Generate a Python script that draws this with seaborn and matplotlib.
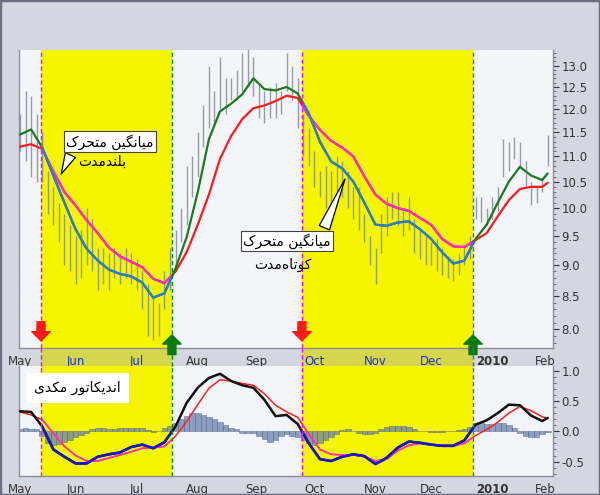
import numpy as np
import pandas as pd
import matplotlib
matplotlib.use("Agg")
import matplotlib.pyplot as plt
import matplotlib.transforms as mtransforms
from matplotlib.patches import Rectangle
from matplotlib.lines import Line2D
from matplotlib.ticker import FixedLocator, FormatStrFormatter, NullFormatter
import seaborn as sns

# ---------------- data ----------------
# x axis = trading-day index (0 = 1 May 2009)
month_ticks = [0, 20, 42, 64, 85, 106, 128, 148, 170, 189]
month_labels = ["May", "Jun", "Jul", "Aug", "Sep", "Oct", "Nov", "Dec", "2010", "Feb"]

# bearish / bullish shaded periods (trading-day index)
shade_periods = [(7.56, 54.7), (101.5, 163.1)]

bar_days = list(range(0, 191, 2))
bar_high = [11.9, 12.4, 12.3, 11.9, 11.5, 10.7, 10.4, 10.1, 9.9, 9.7,
            9.5, 9.6, 10.0, 9.8, 9.3, 9.3, 9.2, 9.3, 9.2, 9.3,
            9.2, 9.1, 8.9, 8.7, 8.5, 8.4, 8.9, 9.3, 9.6, 10.0,
            10.8, 11.0, 11.5, 12.1, 13.0, 12.4, 13.2, 12.7, 12.7, 12.9,
            13.3, 13.4, 13.2, 12.6, 12.4, 12.5, 12.6, 12.4, 13.3, 13.0,
            12.7, 11.9, 11.6, 11.1, 10.7, 10.8, 10.7, 11.0, 10.9, 10.7,
            10.4, 10.4, 9.9, 9.5, 9.3, 9.9, 10.2, 10.3, 10.3, 10.0,
            10.2, 9.8, 9.6, 9.5, 9.4, 9.45, 9.3, 9.15, 9.1, 9.2,
            9.35, 9.5, 10.2, 10.2, 10.0, 10.2, 10.4, 11.35, 11.3, 11.4,
            11.3, 10.9, 10.5, 10.4, 10.6, 11.45]
bar_low = [11.1, 10.9, 10.6, 10.5, 10.5, 9.9, 9.7, 9.4, 9.0, 8.9,
           8.7, 8.8, 9.0, 8.9, 8.6, 8.7, 8.6, 8.8, 8.7, 8.8,
           8.7, 8.6, 8.3, 7.9, 7.85, 7.9, 8.3, 8.6, 8.95, 9.4,
           9.7, 10.2, 10.6, 11.2, 11.6, 11.7, 12.0, 11.9, 12.2, 12.2,
           12.4, 12.5, 12.3, 11.8, 11.7, 11.8, 11.8, 11.9, 12.4, 12.2,
           11.6, 11.0, 10.8, 10.4, 10.2, 10.0, 10.0, 10.3, 10.2, 10.0,
           9.8, 9.6, 9.4, 9.0, 8.7, 9.2, 9.5, 9.8, 9.7, 9.5,
           9.6, 9.2, 9.1, 9.0, 9.0, 8.9, 8.85, 8.8, 8.75, 8.85,
           9.0, 9.1, 9.8, 9.75, 9.7, 9.8, 9.95, 10.6, 10.7, 10.95,
           10.8, 10.4, 10.05, 10.1, 10.3, 10.8]

line_days = list(range(0, 189, 4)) + [190]
ma_short = [11.45, 11.56, 11.18, 10.62, 10.1, 9.62, 9.28, 9.08, 8.93, 8.86,
            8.82, 8.72, 8.48, 8.55, 8.95, 9.48, 10.3, 11.35, 11.95, 12.12,
            12.33, 12.7, 12.45, 12.42, 12.5, 12.35, 11.9, 11.3, 10.9, 10.76,
            10.5, 10.1, 9.7, 9.68, 9.74, 9.76, 9.62, 9.45, 9.22, 9.03,
            9.08, 9.45, 9.7, 10.1, 10.5, 10.79, 10.62, 10.53, 10.66]
ma_long = [11.2, 11.25, 11.15, 10.7, 10.3, 10.05, 9.78, 9.55, 9.3, 9.15,
           9.06, 8.97, 8.78, 8.71, 8.9, 9.22, 9.7, 10.25, 10.95, 11.42,
           11.78, 12.02, 12.08, 12.18, 12.3, 12.25, 11.85, 11.55, 11.32, 11.18,
           11.0, 10.6, 10.25, 10.08, 10.0, 9.95, 9.82, 9.7, 9.45, 9.32,
           9.31, 9.43, 9.55, 9.85, 10.15, 10.36, 10.4, 10.4, 10.48]
macd_line = [0.33, 0.32, 0.08, -0.30, -0.42, -0.53, -0.53, -0.42, -0.38, -0.35,
             -0.26, -0.22, -0.28, -0.18, 0.08, 0.47, 0.72, 0.88, 0.95, 0.83,
             0.76, 0.72, 0.52, 0.25, 0.27, 0.12, -0.20, -0.46, -0.49, -0.42,
             -0.38, -0.41, -0.54, -0.44, -0.27, -0.17, -0.19, -0.22, -0.24, -0.24,
             -0.15, 0.11, 0.18, 0.30, 0.44, 0.43, 0.26, 0.17, 0.22]
signal_line = [0.32, 0.27, 0.19, -0.03, -0.25, -0.40, -0.49, -0.49, -0.44, -0.39,
               -0.34, -0.28, -0.27, -0.25, -0.08, 0.16, 0.44, 0.71, 0.85, 0.83,
               0.79, 0.76, 0.62, 0.43, 0.32, 0.23, -0.05, -0.30, -0.38, -0.39,
               -0.39, -0.42, -0.49, -0.46, -0.32, -0.23, -0.20, -0.22, -0.23, -0.24,
               -0.20, -0.07, 0.03, 0.15, 0.30, 0.41, 0.34, 0.24, 0.21]
macd_hist = [0.04, 0.05, 0.04, 0.03, -0.08, -0.2, -0.23, -0.21, -0.17, -0.14,
             -0.1, -0.06, -0.03, 0.03, 0.06, 0.05, 0.04, 0.04, 0.05, 0.06,
             0.06, 0.05, 0.05, 0.02, -0.01, 0.0, 0.05, 0.09, 0.13, 0.2,
             0.26, 0.3, 0.3, 0.27, 0.24, 0.2, 0.16, 0.11, 0.06, 0.03,
             -0.02, -0.03, -0.02, -0.07, -0.13, -0.17, -0.15, -0.08, -0.05, -0.07,
             -0.1, -0.15, -0.2, -0.22, -0.2, -0.15, -0.1, -0.04, 0.02, 0.04,
             0.0, -0.02, -0.04, -0.05, -0.03, 0.03, 0.07, 0.08, 0.09, 0.09,
             0.07, 0.04, 0.01, 0.0, -0.01, -0.01, -0.01, 0.0, 0.0, 0.02,
             0.04, 0.07, 0.13, 0.13, 0.12, 0.12, 0.13, 0.13, 0.1, 0.05,
             -0.02, -0.08, -0.1, -0.09, -0.05, -0.01]

price_ticks = [8.0, 8.5, 9.0, 9.5, 10.0, 10.5, 11.0, 11.5, 12.0, 12.5, 13.0]
macd_ticks = [-0.5, 0.0, 0.5, 1.0]

txt_long = "میانگین متحرک"
txt_long2 = "بلندمدت"
txt_short2 = "کوتاه\u200cمدت"
txt_macd = "اندیکاتور مکدی"

# ---------------- Persian shaping (matplotlib has no RTL shaping) ----------------
FORMS = {
    "ا": ("\uFE8D", "\uFE8E", None, None),
    "ب": ("\uFE8F", "\uFE90", "\uFE91", "\uFE92"),
    "ت": ("\uFE95", "\uFE96", "\uFE97", "\uFE98"),
    "ح": ("\uFEA1", "\uFEA2", "\uFEA3", "\uFEA4"),
    "د": ("\uFEA9", "\uFEAA", None, None),
    "ر": ("\uFEAD", "\uFEAE", None, None),
    "ل": ("\uFEDD", "\uFEDE", "\uFEDF", "\uFEE0"),
    "م": ("\uFEE1", "\uFEE2", "\uFEE3", "\uFEE4"),
    "ن": ("\uFEE5", "\uFEE6", "\uFEE7", "\uFEE8"),
    "و": ("\uFEED", "\uFEEE", None, None),
    "ه": ("\uFEE9", "\uFEEA", "\uFEEB", "\uFEEC"),
    "ی": ("\uFBFC", "\uFBFD", "\uFBFE", "\uFBFF"),
    "ک": ("\uFB8E", "\uFB8F", "\uFB90", "\uFB91"),
    "گ": ("\uFB92", "\uFB93", "\uFB94", "\uFB95"),
}


def shape(s):
    out = []
    n = len(s)
    for j, c in enumerate(s):
        if c not in FORMS:
            if c != "\u200c":
                out.append(c)
            continue
        prev = s[j - 1] if j > 0 else None
        nxt = s[j + 1] if j < n - 1 else None
        jp = prev in FORMS and FORMS[prev][2] is not None
        jn = nxt in FORMS and FORMS[c][2] is not None
        iso, fin, ini, med = FORMS[c]
        if jp and jn:
            out.append(med)
        elif jp:
            out.append(fin)
        elif jn:
            out.append(ini)
        else:
            out.append(iso)
    return "".join(out[::-1])


# ---------------- figure ----------------
sns.set_style("white")
plt.rcParams["font.family"] = ["DejaVu Sans"]

W, H = 600, 495
fig = plt.figure(figsize=(W / 100, H / 100), dpi=100, facecolor="#d3d7e1")


def fx(px):
    return px / W


def fy(py):
    return 1 - py / H


ax1 = fig.add_axes([fx(19), fy(348), fx(553) - fx(19), fy(50) - fy(348)])
ax2 = fig.add_axes([fx(19), fy(475.7), fx(553) - fx(19), fy(366) - fy(475.7)])

YELLOW = "#f5f500"
xlim = (-0.36, 191.9)

for ax in (ax1, ax2):
    ax.set_facecolor("#f4f5fa")
    ax.set_xlim(*xlim)
    for s0, s1 in shade_periods:
        ax.axvspan(s0, s1, color=YELLOW, lw=0, zorder=0.5)
    for sp in ax.spines.values():
        sp.set_color("#8c8f96")
        sp.set_linewidth(1.0)
    ax.spines["top"].set_visible(False)

# ---------------- main price panel ----------------
ax1.set_yscale("log")
ax1.set_ylim(7.73, 13.38)
ax1.vlines(bar_days, bar_low, bar_high, color="#7c8791", lw=1.0, alpha=0.8, zorder=2)

df_ma = pd.DataFrame({"day": line_days, "short": ma_short, "long": ma_long,
                      "macd": macd_line, "signal": signal_line})


def seg_line(ax, col, base_color, alt_color, lw):
    sns.lineplot(data=df_ma, x="day", y=col, ax=ax, color=base_color, lw=lw,
                 sort=False, estimator=None, zorder=3)
    for s0, s1 in shade_periods:
        sns.lineplot(data=df_ma, x="day", y=col, ax=ax, color=alt_color, lw=lw,
                     sort=False, estimator=None, zorder=4)
        ln = ax.lines[-1]
        clip = Rectangle((s0, 0), s1 - s0, 1, transform=ax.get_xaxis_transform())
        ln.set_clip_path(clip)


seg_line(ax1, "long", "#ff1a1a", "#ff2ad4", 1.6)
seg_line(ax1, "short", "#1b7a1b", "#2a7be0", 1.6)

ax1.yaxis.tick_right()
ax1.yaxis.set_major_locator(FixedLocator(price_ticks))
ax1.yaxis.set_major_formatter(FormatStrFormatter("%.1f"))
ax1.yaxis.set_minor_locator(FixedLocator(list(np.arange(7.8, 13.4, 0.1))))
ax1.yaxis.set_minor_formatter(NullFormatter())
ax1.tick_params(axis="y", which="major", length=4, labelsize=8.5, pad=2,
                colors="#333333", right=True, left=False)
ax1.tick_params(axis="y", which="minor", length=2, right=True, left=False,
                colors="#555555")
ax1.set_xticks(month_ticks)
ax1.set_xticklabels(month_labels)
ax1.tick_params(axis="x", length=3, labelsize=8.5, pad=2, colors="#777777")
top_colors = []
for t in month_ticks:
    inside = any(s0 <= t <= s1 for s0, s1 in shade_periods)
    top_colors.append("#1a33c4" if inside else "#333333")
for lbl, c, txt in zip(ax1.get_xticklabels(), top_colors, month_labels):
    lbl.set_color(c)
    if txt == "2010":
        lbl.set_fontweight("bold")
ax1.set_xlabel("")
ax1.set_ylabel("")

# ---------------- MACD panel ----------------
ax2.set_ylim(-0.733, 1.078)
ax2.bar(bar_days, macd_hist, width=2.0, color="#6b83ad", edgecolor="#4b5b7c",
        linewidth=0.4, alpha=0.75, zorder=2)
seg_line(ax2, "signal", "#ff2020", "#ff33cc", 1.1)
seg_line(ax2, "macd", "#111111", "#1414d8", 1.8)

ax2.yaxis.tick_right()
ax2.yaxis.set_major_locator(FixedLocator(macd_ticks))
ax2.yaxis.set_major_formatter(FormatStrFormatter("%.1f"))
ax2.yaxis.set_minor_locator(FixedLocator(list(np.arange(-0.7, 1.08, 0.1))))
ax2.yaxis.set_minor_formatter(NullFormatter())
ax2.tick_params(axis="y", which="major", length=4, labelsize=8.5, pad=2,
                colors="#333333", right=True, left=False)
ax2.tick_params(axis="y", which="minor", length=2, right=True, left=False,
                colors="#555555")
ax2.set_xticks(month_ticks)
ax2.set_xticklabels(month_labels)
ax2.tick_params(axis="x", length=3, labelsize=8.5, pad=2, colors="#777777")
for lbl, txt in zip(ax2.get_xticklabels(), month_labels):
    lbl.set_color("#333333")
    if txt == "2010":
        lbl.set_fontweight("bold")
ax2.set_xlabel("")
ax2.set_ylabel("")

# ---------------- shading across the gap, dashed signal lines ----------------
blend = mtransforms.blended_transform_factory(ax1.transData, fig.transFigure)
line_cols = [("#ff00ff", "#008a00"), ("#ff00ff", "#1a6fe0")]
for (s0, s1), (c0, c1) in zip(shade_periods, line_cols):
    fig.add_artist(Rectangle((s0, fy(366)), s1 - s0, fy(348) - fy(366),
                             transform=blend, color="#d6d64c", lw=0, zorder=0))
    for b, c in ((s0, c0), (s1, c1)):
        for ax in (ax1, ax2):
            ax.axvline(b, color=c, lw=1.0, ls=(0, (3, 2)), zorder=5)
        fig.add_artist(Line2D([b, b], [fy(366), fy(348)], transform=blend,
                              color=c, lw=1.0, ls=(0, (3, 2)), zorder=1))

# sell (red, down) / buy (green, up) arrows
for s0, s1 in shade_periods:
    ax1.annotate("", xy=(s0, 0.024), xytext=(s0, 0.088),
                 xycoords=("data", "axes fraction"),
                 arrowprops=dict(arrowstyle="simple,head_length=0.55,head_width=1.1,tail_width=0.48",
                                 color="#ff1a1a", shrinkA=0, shrinkB=0, mutation_scale=12),
                 annotation_clip=False, zorder=6)
    ax1.annotate("", xy=(s1, 0.044), xytext=(s1, -0.022),
                 xycoords=("data", "axes fraction"),
                 arrowprops=dict(arrowstyle="simple,head_length=0.55,head_width=1.1,tail_width=0.48",
                                 color="#0a7a0a", shrinkA=0, shrinkB=0, mutation_scale=12),
                 annotation_clip=False, zorder=6)

# ---------------- callouts ----------------
box = dict(boxstyle="square,pad=0.18", fc="white", ec="#444444", lw=0.8)
ax1.annotate(shape(txt_long), xy=(14.4, 10.6), xytext=(0.170, 0.692),
             textcoords="axes fraction", ha="center", va="center", fontsize=10,
             color="black", bbox=box, zorder=8,
             arrowprops=dict(arrowstyle="wedge,tail_width=0.8,shrink_factor=0.5",
                             fc="white", ec="black", lw=0.9, relpos=(0.08, 0.0)))
ax1.text(0.155, 0.624, shape(txt_long2), transform=ax1.transAxes, ha="center",
         va="center", fontsize=10, color="black", zorder=8)
ax1.annotate(shape(txt_long), xy=(117.4, 10.6), xytext=(0.502, 0.359),
             textcoords="axes fraction", ha="center", va="center", fontsize=10,
             color="black", bbox=box, zorder=8,
             arrowprops=dict(arrowstyle="wedge,tail_width=0.8,shrink_factor=0.5",
                             fc="white", ec="black", lw=0.9, relpos=(0.9, 1.0)))
ax1.text(0.494, 0.279, shape(txt_short2), transform=ax1.transAxes, ha="center",
         va="center", fontsize=10, color="black", zorder=8)

ax2.text(0.110, 0.80, shape(txt_macd), transform=ax2.transAxes, ha="center",
         va="center", fontsize=10, color="black", zorder=8,
         bbox=dict(boxstyle="square,pad=0.55", fc="white", ec="none"))

# outer frame
fig.add_artist(Rectangle((0, 0), 1, 1, transform=fig.transFigure, fill=False,
                         ec="#6b7080", lw=2.5, zorder=10))

fig.savefig("out.png", dpi=100, facecolor=fig.get_facecolor())
